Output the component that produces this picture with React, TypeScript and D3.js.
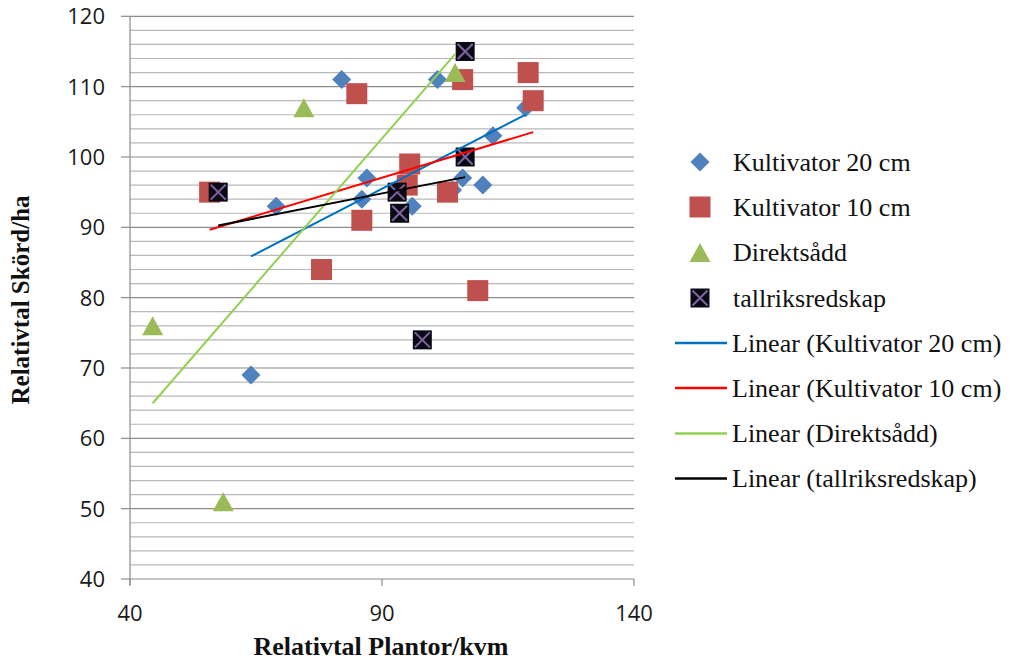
import React from "react";
import * as d3 from "d3";

// ---- Data ----
const seriesNames = ["Kultivator 20 cm", "Kultivator 10 cm", "Direktsådd", "tallriksredskap"];

const kult20X = [82, 101, 69, 87, 86, 96, 106, 110, 112, 118.5, 64, 104];
const kult20Y = [111, 111, 93, 97, 94, 93, 97, 96, 103, 107, 69, 95.3];

const kult10X = [55.8, 85, 86, 78, 95.5, 95, 103, 106, 119, 120, 109];
const kult10Y = [95, 109, 91, 84, 99, 96, 95, 111, 112, 108, 81];

const direktX = [44.5, 58.5, 74.5, 104.5];
const direktY = [76, 51, 107, 112];

const tallrikX = [57.5, 106.5, 106.5, 93, 93.5, 98];
const tallrikY = [95, 115, 100, 95, 92, 74];

const xTicks = [40, 90, 140];
const yTicks = [40, 50, 60, 70, 80, 90, 100, 110, 120];
const yMinor = d3.range(40, 121, 2);

const markerColors = ["#4f81bd", "#c0504d", "#9bbb59", "#000000"];
const trendColors = ["#0070c0", "#ff0000", "#92d050", "#000000"];

function linReg(xs: number[], ys: number[]) {
  const mx = d3.mean(xs)!;
  const my = d3.mean(ys)!;
  let sxy = 0, sxx = 0;
  xs.forEach((x, i) => {
    sxy += (x - mx) * (ys[i] - my);
    sxx += (x - mx) * (x - mx);
  });
  const b = sxy / sxx;
  const a = my - b * mx;
  const [x0, x1] = d3.extent(xs) as [number, number];
  return [
    [x0, a + b * x0],
    [x1, a + b * x1],
  ];
}

export default function App() {
  const W = 1011, H = 664;
  const x = d3.scaleLinear().domain([40, 140]).range([130, 634]);
  const y = d3.scaleLinear().domain([40, 120]).range([579, 16.3]);

  const data = [
    { xs: kult20X, ys: kult20Y },
    { xs: kult10X, ys: kult10Y },
    { xs: direktX, ys: direktY },
    { xs: tallrikX, ys: tallrikY },
  ];

  const line = d3.line<number[]>().x((d) => x(d[0])).y((d) => y(d[1]));
  const numFont = "'Open Sans', 'Liberation Sans', sans-serif";
  const serif = "'Liberation Serif', 'Times New Roman', serif";

  const marker = (kind: number, cx: number, cy: number, key: string) => {
    if (kind === 0) {
      const r = 9.5;
      return (
        <path key={key} d={`M${cx},${cy - r}L${cx + r},${cy}L${cx},${cy + r}L${cx - r},${cy}Z`} fill={markerColors[0]} />
      );
    }
    if (kind === 1) {
      const s = 21;
      return <rect key={key} x={cx - s / 2} y={cy - s / 2} width={s} height={s} fill={markerColors[1]} />;
    }
    if (kind === 2) {
      const w = 21, h = 19;
      return (
        <path key={key} d={`M${cx},${cy - h / 2}L${cx + w / 2},${cy + h / 2}L${cx - w / 2},${cy + h / 2}Z`} fill={markerColors[2]} />
      );
    }
    const s = 19;
    return (
      <g key={key}>
        <rect x={cx - s / 2} y={cy - s / 2} width={s} height={s} fill="#0a0a14" />
        <path
          d={`M${cx - s / 2 + 2},${cy - s / 2 + 2}L${cx + s / 2 - 2},${cy + s / 2 - 2}M${cx + s / 2 - 2},${cy - s / 2 + 2}L${cx - s / 2 + 2},${cy + s / 2 - 2}`}
          stroke="#8064a2"
          strokeWidth={2}
        />
      </g>
    );
  };

  const legendRows = [162, 207, 252.5, 298, 343, 388, 433.5, 478.5];

  return (
    <svg width={W} height={H} style={{ position: "absolute", left: 0, top: 0, background: "#fff" }}>
      <rect width={W} height={H} fill="#fff" />
      {/* gridlines */}
      {yMinor.map((v) => (
        <line key={"m" + v} x1={130} x2={634} y1={y(v)} y2={y(v)} stroke={v % 10 === 0 ? "#8c8c8c" : "#b8b8b8"} strokeWidth={1.2} />
      ))}
      {/* y axis */}
      <line x1={130} x2={130} y1={y(120)} y2={y(40) + 6} stroke="#8c8c8c" strokeWidth={1.2} />
      {yTicks.map((v) => (
        <g key={"yt" + v}>
          <line x1={121} x2={130} y1={y(v)} y2={y(v)} stroke="#8c8c8c" strokeWidth={1.2} />
          <text x={105} y={y(v)} dy="0.36em" textAnchor="end" fontFamily={numFont} fontSize={22} fill="#1a1a1a">
            {v}
          </text>
        </g>
      ))}
      {xTicks.map((v) => (
        <g key={"xt" + v}>
          <line x1={x(v)} x2={x(v)} y1={y(40)} y2={y(40) + 7} stroke="#8c8c8c" strokeWidth={1.2} />
          <text x={x(v)} y={613} dy="0.36em" textAnchor="middle" fontFamily={numFont} fontSize={22} fill="#1a1a1a">
            {v}
          </text>
        </g>
      ))}
      {/* markers */}
      {data.map((s, si) => (
        <g key={"s" + si}>{s.xs.map((xv, i) => marker(si, x(xv), y(s.ys[i]), si + "-" + i))}</g>
      ))}
      {/* trend lines */}
      {data.map((s, si) => (
        <path key={"t" + si} d={line(linReg(s.xs, s.ys))!} fill="none" stroke={trendColors[si]} strokeWidth={2} />
      ))}
      {/* axis titles */}
      <text
        transform="translate(29,300) rotate(-90)"
        textAnchor="middle"
        fontFamily={serif}
        fontWeight="bold"
        fontSize={25}
        fill="#111"
      >
        Relativtal Skörd/ha
      </text>
      <text x={381} y={655} textAnchor="middle" fontFamily={serif} fontWeight="bold" fontSize={26} fill="#111">
        Relativtal Plantor/kvm
      </text>
      {/* legend */}
      {seriesNames.map((n, i) => (
        <g key={"lg" + i}>
          {marker(i, 700, legendRows[i], "lm" + i)}
          <text x={733} y={legendRows[i]} dy="0.33em" fontFamily={serif} fontSize={26} fill="#111">
            {n}
          </text>
        </g>
      ))}
      {seriesNames.map((n, i) => (
        <g key={"ll" + i}>
          <line x1={675} x2={727} y1={legendRows[4 + i]} y2={legendRows[4 + i]} stroke={trendColors[i]} strokeWidth={2.5} />
          <text x={732} y={legendRows[4 + i]} dy="0.33em" fontFamily={serif} fontSize={26} fill="#111">
            {`Linear (${n})`}
          </text>
        </g>
      ))}
    </svg>
  );
}
